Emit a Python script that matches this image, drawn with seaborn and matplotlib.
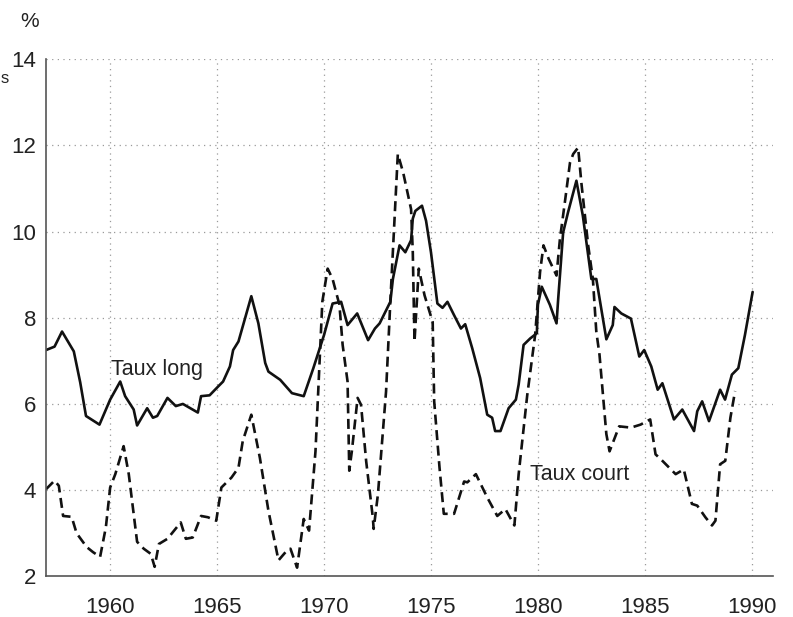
import matplotlib
matplotlib.use('Agg')
import matplotlib.pyplot as plt
import seaborn as sns
import pandas as pd

# Taux long (solid line)
long_years = [1957.0, 1957.4, 1957.75, 1958.3, 1958.6, 1958.87, 1959.5, 1960.0, 1960.47, 1960.7,
              1961.1, 1961.26, 1961.73, 1962.0, 1962.2, 1962.68, 1963.07, 1963.4, 1964.1, 1964.25,
              1964.65, 1965.04, 1965.28, 1965.6, 1965.75, 1966.0, 1966.6, 1966.93, 1967.25, 1967.4,
              1967.95, 1968.5, 1969.05, 1969.5, 1970.0, 1970.4, 1970.8, 1971.1, 1971.55, 1972.06,
              1972.38, 1972.6, 1973.1, 1973.22, 1973.53, 1973.8, 1974.07, 1974.15, 1974.27, 1974.58,
              1974.77, 1975.0, 1975.3, 1975.54, 1975.77, 1976.08, 1976.4, 1976.6, 1976.93, 1977.3,
              1977.63, 1977.86, 1978.0, 1978.25, 1978.63, 1978.97, 1979.1, 1979.33, 1979.64, 1979.95,
              1980.0, 1980.18, 1980.56, 1980.87, 1980.95, 1981.18, 1981.41, 1981.8, 1982.1, 1982.5,
              1982.73, 1983.2, 1983.5, 1983.58, 1983.9, 1984.35, 1984.74, 1984.97, 1985.3, 1985.6,
              1985.82, 1986.36, 1986.75, 1987.3, 1987.45, 1987.68, 1988.0, 1988.52, 1988.75, 1989.07,
              1989.37, 1989.68, 1990.04]
long_rates = [7.25, 7.33, 7.68, 7.22, 6.5, 5.72, 5.52, 6.1, 6.52, 6.18,
              5.87, 5.5, 5.9, 5.68, 5.72, 6.14, 5.95, 6.0, 5.8, 6.18,
              6.2, 6.4, 6.52, 6.87, 7.25, 7.45, 8.5, 7.87, 6.95, 6.75,
              6.56, 6.25, 6.18, 6.83, 7.6, 8.33, 8.37, 7.83, 8.1, 7.48,
              7.75, 7.87, 8.37, 8.9, 9.68, 9.52, 9.8, 10.3, 10.48, 10.6,
              10.25, 9.52, 8.33, 8.23, 8.37, 8.06, 7.75, 7.85, 7.29, 6.6,
              5.75, 5.68, 5.37, 5.37, 5.9, 6.1, 6.45, 7.37, 7.52, 7.64,
              8.3, 8.72, 8.3, 7.87, 8.45, 9.98, 10.45, 11.18, 10.37, 8.9,
              8.9, 7.5, 7.83, 8.25, 8.1, 7.98, 7.1, 7.25, 6.87, 6.33,
              6.48, 5.64, 5.87, 5.37, 5.83, 6.06, 5.6, 6.33, 6.1, 6.68,
              6.83, 7.6, 8.6]

# Taux court (dashed line)
short_years = [1957.0, 1957.4, 1957.6, 1957.8, 1958.2, 1958.43, 1958.9, 1959.2, 1959.53, 1959.8,
               1960.0, 1960.24, 1960.63, 1960.87, 1961.26, 1961.57, 1961.9, 1962.08, 1962.28, 1962.68,
               1963.3, 1963.54, 1963.86, 1964.25, 1964.57, 1964.96, 1965.2, 1965.67, 1966.0, 1966.2,
               1966.6, 1967.0, 1967.4, 1967.87, 1968.2, 1968.43, 1968.74, 1969.05, 1969.3, 1969.6,
               1969.92, 1970.17, 1970.4, 1970.72, 1970.87, 1971.1, 1971.18, 1971.3, 1971.57, 1971.73,
               1971.97, 1972.28, 1972.32, 1972.52, 1972.9, 1973.1, 1973.45, 1973.7, 1974.07, 1974.15,
               1974.23, 1974.43, 1974.7, 1975.08, 1975.15, 1975.4, 1975.6, 1976.08, 1976.55, 1976.7,
               1977.1, 1977.63, 1978.1, 1978.48, 1978.9, 1979.1, 1979.5, 1979.87, 1980.1, 1980.26,
               1980.5, 1980.87, 1981.03, 1981.26, 1981.5, 1981.65, 1981.88, 1982.03, 1982.35, 1982.57,
               1982.73, 1982.88, 1983.2, 1983.35, 1983.8, 1984.35, 1984.8, 1985.25, 1985.5, 1985.74,
               1986.44, 1986.82, 1987.2, 1987.45, 1987.83, 1988.14, 1988.3, 1988.52, 1988.76, 1989.0,
               1989.22]
short_rates = [4.02, 4.22, 4.1, 3.4, 3.38, 3.0, 2.68, 2.56, 2.45, 3.14,
               4.06, 4.37, 5.02, 4.37, 2.8, 2.64, 2.52, 2.22, 2.75, 2.87,
               3.25, 2.87, 2.9, 3.4, 3.37, 3.29, 4.06, 4.29, 4.52, 5.14,
               5.75, 4.75, 3.52, 2.37, 2.56, 2.64, 2.2, 3.33, 3.06, 4.9,
               8.37, 9.14, 8.9, 8.3, 7.37, 6.52, 4.45, 4.9, 6.14, 5.98,
               4.67, 3.37, 3.1, 3.9, 6.29, 8.37, 11.8, 11.37, 10.52, 9.52,
               7.45, 9.14, 8.52, 7.9, 6.06, 4.52, 3.45, 3.45, 4.2, 4.18,
               4.37, 3.83, 3.4, 3.56, 3.18, 4.37, 6.2, 7.6, 9.06, 9.68,
               9.37, 8.98, 9.83, 10.68, 11.6, 11.8, 11.95, 11.14, 9.68, 8.9,
               7.68, 7.14, 5.3, 4.9, 5.48, 5.45, 5.52, 5.64, 4.83, 4.72,
               4.37, 4.48, 3.68, 3.64, 3.37, 3.18, 3.29, 4.6, 4.68, 5.68,
               6.3]

x_ticks = [1960, 1965, 1970, 1975, 1980, 1985, 1990]
y_ticks = [2, 4, 6, 8, 10, 12, 14]

long_df = pd.DataFrame({'annee': long_years, 'taux': long_rates})
short_df = pd.DataFrame({'annee': short_years, 'taux': short_rates})

sns.set_style('white')
plt.rcParams['font.family'] = ['Liberation Sans', 'DejaVu Sans']

fig = plt.figure(figsize=(7.93, 6.17), dpi=100)
ax = fig.add_axes([0.058, 0.066, 0.917, 0.838])

sns.lineplot(data=long_df, x='annee', y='taux', ax=ax, color='#111111', linewidth=1.9,
             sort=False, estimator=None)
sns.lineplot(data=short_df, x='annee', y='taux', ax=ax, color='#111111', linewidth=1.9,
             sort=False, estimator=None, dashes=False)
ax.lines[-1].set_dashes((3.8, 2.1))

ax.set_xlim(1957, 1991)
ax.set_ylim(2, 14)
ax.set_xticks(x_ticks)
ax.set_yticks(y_ticks)
ax.tick_params(axis='both', length=0, labelsize=16, colors='#222222')
ax.tick_params(axis='x', pad=15)
ax.tick_params(axis='y', pad=7)
ax.set_xlabel('')
ax.set_ylabel('')

for v in y_ticks[1:]:
    ax.axhline(v, color='#9a9a9a', linestyle=(0, (1, 3.5)), linewidth=0.9, zorder=0)
for v in x_ticks:
    ax.axvline(v, color='#9a9a9a', linestyle=(0, (1, 3.5)), linewidth=0.9, zorder=0)

for side in ['top', 'right']:
    ax.spines[side].set_visible(False)
for side in ['left', 'bottom']:
    ax.spines[side].set_color('#555555')
    ax.spines[side].set_linewidth(1.2)

ax.text(1960.05, 6.8, 'Taux long', fontsize=15.5, va='center', ha='left', color='#222222')
ax.text(1979.65, 4.37, 'Taux court', fontsize=15.5, va='center', ha='left', color='#222222')

fig.text(0.037, 0.965, '%', fontsize=15, ha='center', va='center', color='#222222')
fig.text(0.0005, 0.872, 's', fontsize=12, ha='left', va='center', color='#222222')

fig.savefig('out.png', dpi=100)
plt.close(fig)
